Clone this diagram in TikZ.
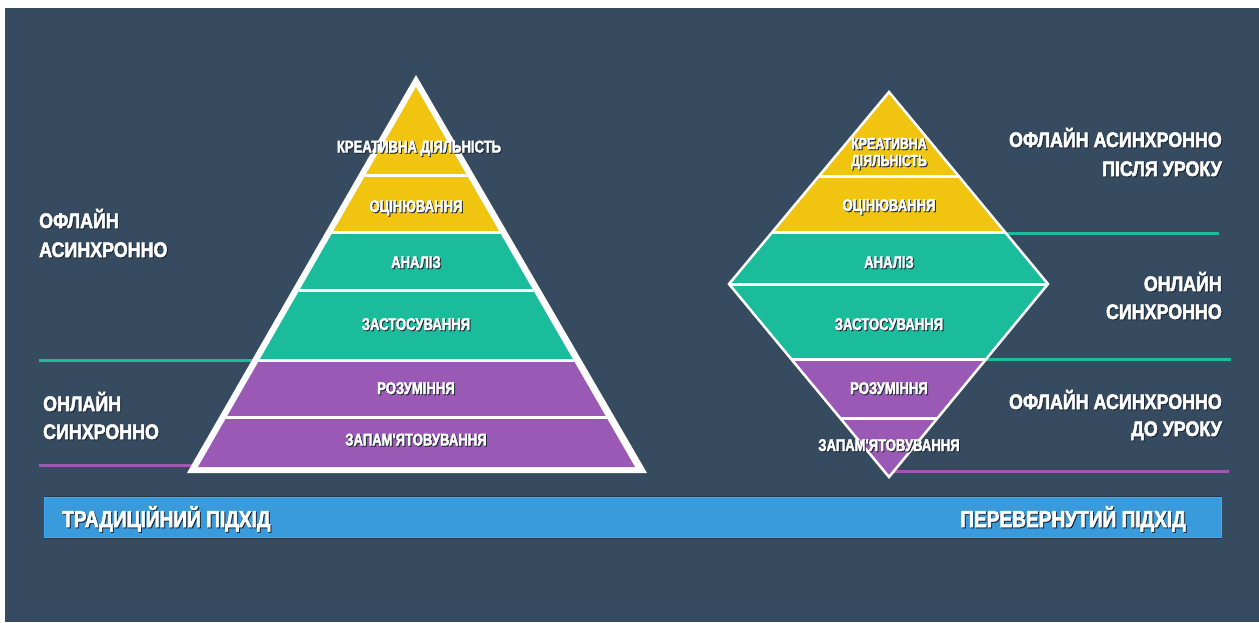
\documentclass[tikz,border=0pt]{standalone}
\usepackage{fontspec}
\newfontfamily\fA{Liberation Sans}[FakeStretch=0.77,FakeBold=2.2]
\newfontfamily\fB{Liberation Sans}[FakeStretch=0.85,FakeBold=2.4]
\newfontfamily\fC{Liberation Sans}[FakeStretch=0.83,FakeBold=2.4]
\definecolor{bg}{HTML}{364B60}
\definecolor{yel}{HTML}{F1C40F}
\definecolor{tea}{HTML}{1ABC9C}
\definecolor{pur}{HTML}{9B59B6}
\definecolor{barblue}{HTML}{3A9BDC}
\definecolor{shadowc}{HTML}{1C2733}
\newcommand\shd[1]{\leavevmode\rlap{\kern1pt\raisebox{-1pt}{\color{shadowc}#1}}#1}
\tikzset{
  lbl/.style={text=white, inner sep=0pt, anchor=base, font=\fA\bfseries\fontsize{17}{17}\selectfont},
  lblsm/.style={lbl, font=\fA\bfseries\fontsize{16}{16}\selectfont},
  side/.style={text=white, inner sep=0pt, font=\fB\bfseries\fontsize{21}{21}\selectfont},
  bartxt/.style={text=white, inner sep=0pt, font=\fC\bfseries\fontsize{23}{23}\selectfont},
  sep/.style={white, line width=3pt},
  tline/.style={tea, line width=3pt},
  pline/.style={pur, line width=3pt},
}
\begin{document}
\begin{tikzpicture}[x=1pt,y=-1pt]
\useasboundingbox (0,0) rectangle (1259,622);
\fill[white] (0,0) rectangle (1259,622);
\fill[bg] (5,8) rectangle (1259,622);

% ---------- left pyramid ----------
\coordinate (PA) at (416,75);
\coordinate (PL) at (187,473);
\coordinate (PR) at (647,473);
\coordinate (lt1) at (39,360);
\coordinate (lt2) at (254,360);
\coordinate (lp1) at (39,465);
\coordinate (lp2) at (195,465);
\draw[tline] (lt1) -- (lt2);
\draw[pline] (lp1) -- (lp2);
\fill[white] (PA) -- (PL) -- (PR) -- cycle;
\begin{scope}
  \clip (416,87) -- (198,467) -- (635,467) -- cycle;
  \fill[yel] (180,80) rectangle (660,232.5);
  \fill[tea] (180,232.5) rectangle (660,360);
  \fill[pur] (180,360) rectangle (660,470);
  \foreach \y in {175.5,232.5,290,360,417} \draw[sep] (180,\y) -- (660,\y);
\end{scope}
\node[lbl] (p1) at (419,152.5) {\shd{КРЕАТИВНА ДІЯЛЬНІСТЬ}};
\node[lbl] (p2) at (416,212) {\shd{ОЦІНЮВАННЯ}};
\node[lbl] (p3) at (416,268) {\shd{АНАЛІЗ}};
\node[lbl] (p4) at (416,330) {\shd{ЗАСТОСУВАННЯ}};
\node[lbl] (p5) at (416,394) {\shd{РОЗУМІННЯ}};
\node[lbl] (p6) at (416,445.5) {\shd{ЗАПАМ'ЯТОВУВАННЯ}};

% ---------- right diamond ----------
\coordinate (DT) at (889,92);
\coordinate (DL) at (729,284);
\coordinate (DR) at (1048,284);
\coordinate (DB) at (889,477);
\coordinate (rt1a) at (1000,233);
\coordinate (rt1b) at (1219,233);
\coordinate (rt2a) at (980,359);
\coordinate (rt2b) at (1231,359);
\coordinate (rp1) at (889,471);
\coordinate (rp2) at (1229,471);
\draw[tline] (rt1a) -- (rt1b);
\draw[tline] (rt2a) -- (rt2b);
\draw[pline] (rp1) -- (rp2);
\begin{scope}
  \clip (DT) -- (DL) -- (DB) -- (DR) -- cycle;
  \fill[yel] (720,85) rectangle (1060,232);
  \fill[tea] (720,232) rectangle (1060,359);
  \fill[pur] (720,359) rectangle (1060,480);
  \foreach \y in {176,232,284,359,418} \draw[sep] (720,\y) -- (1060,\y);
\end{scope}
\draw[white, line width=2.5pt, line join=miter] (DT) -- (DL) -- (DB) -- (DR) -- cycle;
\node[lblsm] (d1a) at (889,149) {\shd{КРЕАТИВНА}};
\node[lblsm] (d1b) at (889,166) {\shd{ДІЯЛЬНІСТЬ}};
\node[lbl] (d2) at (889,211) {\shd{ОЦІНЮВАННЯ}};
\node[lbl] (d3) at (889,268) {\shd{АНАЛІЗ}};
\node[lbl] (d4) at (889,330) {\shd{ЗАСТОСУВАННЯ}};
\node[lbl] (d5) at (889,394) {\shd{РОЗУМІННЯ}};
\node[lbl] (d6) at (889,451) {\shd{ЗАПАМ'ЯТОВУВАННЯ}};

% ---------- side labels ----------
\node[side, anchor=base west] (l1a) at (39,228) {\shd{ОФЛАЙН}};
\node[side, anchor=base west] (l1b) at (39,257) {\shd{АСИНХРОННО}};
\node[side, anchor=base west] (l2a) at (43,411) {\shd{ОНЛАЙН}};
\node[side, anchor=base west] (l2b) at (43,439) {\shd{СИНХРОННО}};

\node[side, anchor=base east] (r1a) at (1222,147) {\shd{ОФЛАЙН АСИНХРОННО}};
\node[side, anchor=base east] (r1b) at (1222,176) {\shd{ПІСЛЯ УРОКУ}};
\node[side, anchor=base east] (r2a) at (1222,291) {\shd{ОНЛАЙН}};
\node[side, anchor=base east] (r2b) at (1222,319) {\shd{СИНХРОННО}};
\node[side, anchor=base east] (r3a) at (1222,409) {\shd{ОФЛАЙН АСИНХРОННО}};
\node[side, anchor=base east] (r3b) at (1222,436) {\shd{ДО УРОКУ}};

% ---------- bottom bar ----------
\fill[shadowc, opacity=0.5] (44,496) rectangle (1222,539);
\node[fill=barblue, draw={rgb,255:red,64;green,170;blue,240}, line width=1pt, inner sep=0pt, minimum width=1177pt, minimum height=40pt, anchor=north west] (bar) at (44,497) {};
\node[bartxt, anchor=base west] (b1) at (62,527) {\shd{ТРАДИЦІЙНИЙ ПІДХІД}};
\node[bartxt, anchor=base east] (b2) at (1186,527) {\shd{ПЕРЕВЕРНУТИЙ ПІДХІД}};
\end{tikzpicture}
\end{document}
